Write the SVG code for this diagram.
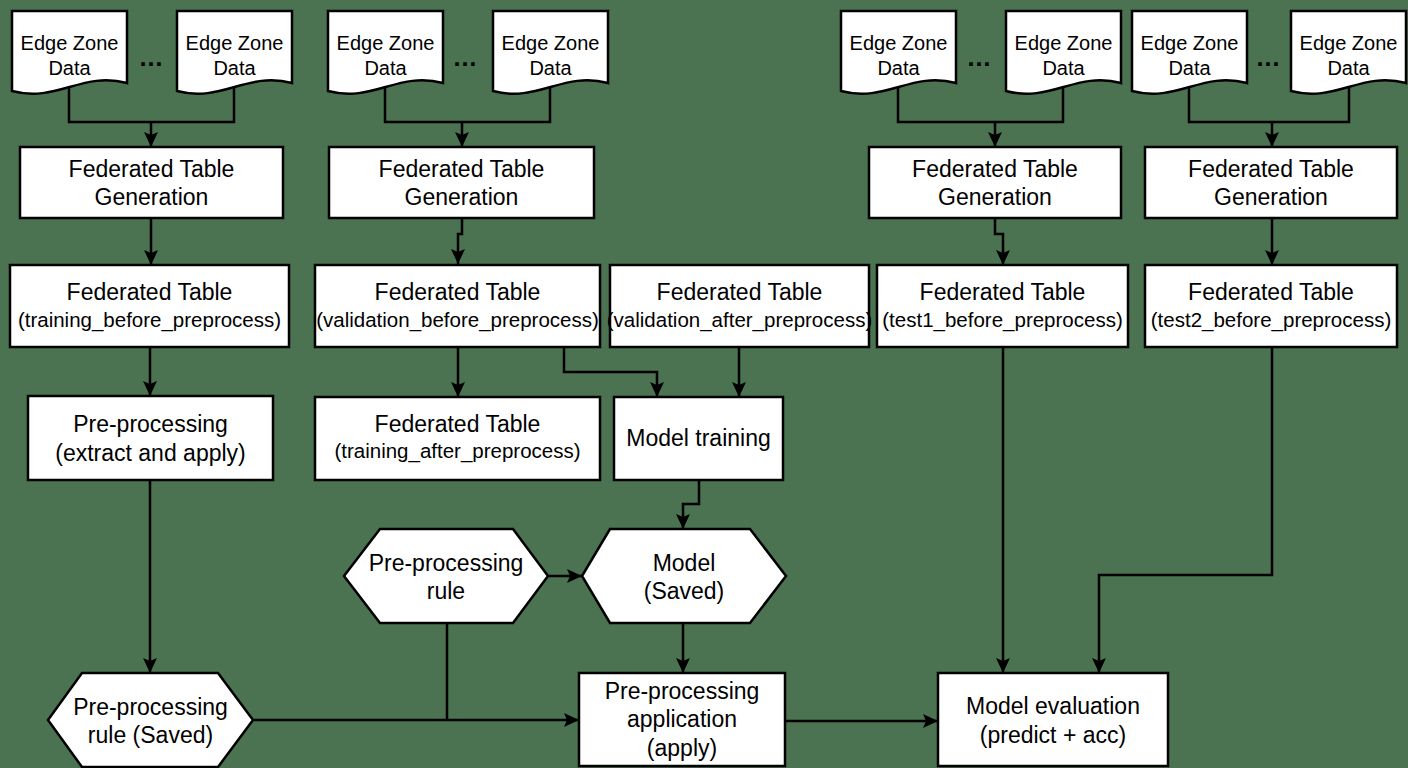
<svg xmlns="http://www.w3.org/2000/svg" width="1408" height="768" viewBox="0 0 1408 768">
<style>
.bg{fill:#4b7351}
.n{fill:#ffffff;stroke:#000000;stroke-width:2.5}
.t{font-family:"Liberation Sans",Arial,sans-serif;font-size:23px;fill:#000;text-anchor:middle}
.s{font-family:"Liberation Sans",Arial,sans-serif;font-size:20px;fill:#000;text-anchor:middle}
.u{font-family:"Liberation Sans",Arial,sans-serif;font-size:20.5px;fill:#000;text-anchor:middle}
.d{font-family:"Liberation Sans",Arial,sans-serif;font-size:25px;font-weight:bold;fill:#000;text-anchor:middle}
.c{fill:none;stroke:#000;stroke-width:2.5}
</style>
<defs>
<marker id="arr" markerUnits="userSpaceOnUse" markerWidth="16" markerHeight="14" refX="15" refY="7" orient="auto">
<path d="M0,0 L15,7 L0,14 L3,7 Z" fill="#000"/>
</marker>
<path id="docshape" d="M0,0 H115 V72 C70,60 45,92 0,80 Z"/>
</defs>
<rect class="bg" x="0" y="0" width="1408" height="768"/>

<g id="connectors">
<path class="c" d="M69,88 V122 H234 V84"/>
<path class="c" marker-end="url(#arr)" d="M151,122 V147"/>
<path class="c" d="M385,88 V122 H550 V84"/>
<path class="c" marker-end="url(#arr)" d="M462,122 V147"/>
<path class="c" d="M898,88 V122 H1063 V84"/>
<path class="c" marker-end="url(#arr)" d="M995,122 V147"/>
<path class="c" d="M1189,88 V122 H1349 V84"/>
<path class="c" marker-end="url(#arr)" d="M1272,122 V147"/>
<path class="c" marker-end="url(#arr)" d="M151,218 V265"/>
<path class="c" marker-end="url(#arr)" d="M462,218 V234 H458 V264"/>
<path class="c" marker-end="url(#arr)" d="M995,218 V234 H1003 V265"/>
<path class="c" marker-end="url(#arr)" d="M1272,218 V265"/>
<path class="c" marker-end="url(#arr)" d="M150,347 V396"/>
<path class="c" marker-end="url(#arr)" d="M150,480 V673"/>
<path class="c" marker-end="url(#arr)" d="M458,347 V397"/>
<path class="c" marker-end="url(#arr)" d="M564,347 V372 H657 V397"/>
<path class="c" marker-end="url(#arr)" d="M739,347 V397"/>
<path class="c" marker-end="url(#arr)" d="M699,480 V504 H683 V529"/>
<path class="c" marker-end="url(#arr)" d="M548,576 H582"/>
<path class="c" marker-end="url(#arr)" d="M683,623 V673"/>
<path class="c" d="M447,623 V720"/>
<path class="c" marker-end="url(#arr)" d="M253,720 H579"/>
<path class="c" marker-end="url(#arr)" d="M785,721 H938"/>
<path class="c" marker-end="url(#arr)" d="M1003,347 V673"/>
<path class="c" marker-end="url(#arr)" d="M1272,347 V575 H1099 V673"/>
</g>

<g id="docA"><use href="#docshape" class="n" x="12" y="11"/><text class="s" x="69.5" y="50">Edge Zone</text><text class="s" x="69.5" y="75">Data</text></g>
<g id="dots1"><text class="d" x="151" y="66">…</text></g>
<g id="docB"><use href="#docshape" class="n" x="177" y="11"/><text class="s" x="234.5" y="50">Edge Zone</text><text class="s" x="234.5" y="75">Data</text></g>

<g id="docC"><use href="#docshape" class="n" x="328" y="11"/><text class="s" x="385.5" y="50">Edge Zone</text><text class="s" x="385.5" y="75">Data</text></g>
<g id="dots2"><text class="d" x="465" y="66">…</text></g>
<g id="docD"><use href="#docshape" class="n" x="493" y="11"/><text class="s" x="550.5" y="50">Edge Zone</text><text class="s" x="550.5" y="75">Data</text></g>

<g id="docE"><use href="#docshape" class="n" x="841" y="11"/><text class="s" x="898.5" y="50">Edge Zone</text><text class="s" x="898.5" y="75">Data</text></g>
<g id="dots3"><text class="d" x="979" y="66">…</text></g>
<g id="docF"><use href="#docshape" class="n" x="1006" y="11"/><text class="s" x="1063.5" y="50">Edge Zone</text><text class="s" x="1063.5" y="75">Data</text></g>

<g id="docG"><use href="#docshape" class="n" x="1132" y="11"/><text class="s" x="1189.5" y="50">Edge Zone</text><text class="s" x="1189.5" y="75">Data</text></g>
<g id="dots4"><text class="d" x="1268" y="66">…</text></g>
<g id="docH"><use href="#docshape" class="n" x="1291" y="11"/><text class="s" x="1348.5" y="50">Edge Zone</text><text class="s" x="1348.5" y="75">Data</text></g>

<g id="ftg1"><rect class="n" x="20" y="147" width="263" height="71"/><text class="t" x="151.5" y="177">Federated Table</text><text class="t" x="151.5" y="205">Generation</text></g>
<g id="ftg2"><rect class="n" x="329" y="147" width="265" height="71"/><text class="t" x="461.5" y="177">Federated Table</text><text class="t" x="461.5" y="205">Generation</text></g>
<g id="ftg3"><rect class="n" x="869" y="147" width="252" height="71"/><text class="t" x="995" y="177">Federated Table</text><text class="t" x="995" y="205">Generation</text></g>
<g id="ftg4"><rect class="n" x="1145" y="147" width="252" height="71"/><text class="t" x="1271" y="177">Federated Table</text><text class="t" x="1271" y="205">Generation</text></g>

<g id="ft_train_before"><rect class="n" x="10" y="265" width="279" height="82"/><text class="t" x="149.5" y="300">Federated Table</text><text class="u" x="149.5" y="327">(training_before_preprocess)</text></g>
<g id="ft_val_before"><rect class="n" x="315" y="265" width="285" height="82"/><text class="t" x="457.5" y="300">Federated Table</text><text class="u" x="457.5" y="327">(validation_before_preprocess)</text></g>
<g id="ft_val_after"><rect class="n" x="610" y="265" width="259" height="82"/><text class="t" x="739.5" y="300">Federated Table</text><text class="u" x="739.5" y="327">(validation_after_preprocess)</text></g>
<g id="ft_test1"><rect class="n" x="877" y="265" width="251" height="82"/><text class="t" x="1002.5" y="300">Federated Table</text><text class="u" x="1002.5" y="327">(test1_before_preprocess)</text></g>
<g id="ft_test2"><rect class="n" x="1145" y="265" width="252" height="82"/><text class="t" x="1271" y="300">Federated Table</text><text class="u" x="1271" y="327">(test2_before_preprocess)</text></g>

<g id="preproc_extract"><rect class="n" x="28" y="396" width="245" height="84"/><text class="t" x="150.5" y="432">Pre-processing</text><text class="t" x="150.5" y="461">(extract and apply)</text></g>
<g id="ft_train_after"><rect class="n" x="315" y="397" width="285" height="83"/><text class="t" x="457.5" y="432">Federated Table</text><text class="u" x="457.5" y="458">(training_after_preprocess)</text></g>
<g id="model_training"><rect class="n" x="614" y="397" width="169" height="83"/><text class="t" x="698.5" y="446">Model training</text></g>

<g id="rule"><polygon class="n" points="344,576 380,529 513,529 548,576 513,623 380,623"/><text class="t" x="446" y="571">Pre-processing</text><text class="t" x="446" y="599">rule</text></g>
<g id="model_saved"><polygon class="n" points="582,576 610,529 750,529 786,576 750,623 610,623"/><text class="t" x="684" y="571">Model</text><text class="t" x="684" y="599">(Saved)</text></g>
<g id="rule_saved"><polygon class="n" points="48,720 82,673 218,673 253,720 218,767 82,767"/><text class="t" x="150.5" y="715">Pre-processing</text><text class="t" x="150.5" y="743">rule (Saved)</text></g>
<g id="preproc_app"><rect class="n" x="579" y="673" width="206" height="93"/><text class="t" x="682" y="699">Pre-processing</text><text class="t" x="682" y="727">application</text><text class="t" x="682" y="756">(apply)</text></g>
<g id="model_eval"><rect class="n" x="938" y="673" width="230" height="93"/><text class="t" x="1053" y="714">Model evaluation</text><text class="t" x="1053" y="743">(predict + acc)</text></g>
</svg>
